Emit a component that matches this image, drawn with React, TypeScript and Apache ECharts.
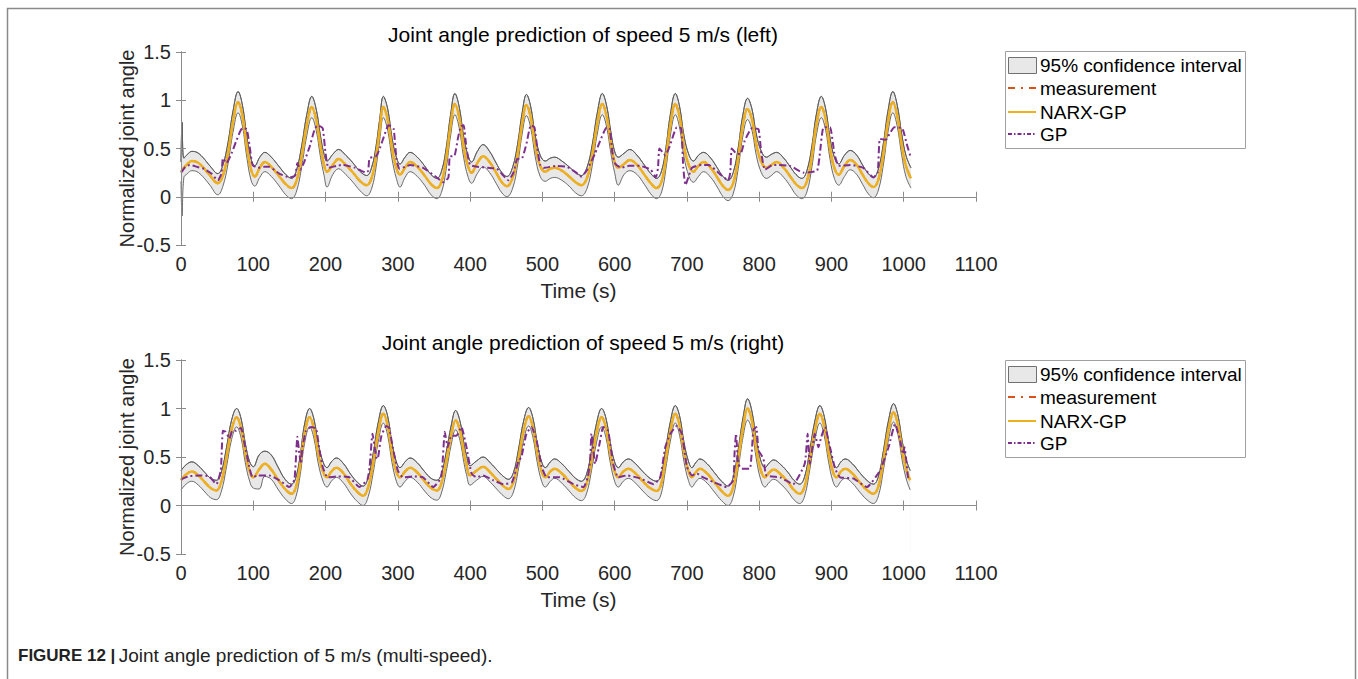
import React, { useEffect, useRef } from "react";
import * as echarts from "echarts";

// ---------- DATA ----------
const xTickMax = 1100;
const xTickStep = 100;
const yMin = -0.5;
const yMax = 1.5;
const yStep = 0.5;

const titleLeft = "Joint angle prediction of speed 5 m/s (left)";
const titleRight = "Joint angle prediction of speed 5 m/s (right)";
const legendNames = ["95% confidence interval", "measurement", "NARX-GP", "GP"];
const captionBold = "FIGURE 12 |";
const caption = "Joint angle prediction of 5 m/s (multi-speed).";

// ---- left (top panel): NARX-GP mean and 95% CI ----
const tLeft = [
  0, 1.5, 4, 9, 15, 22, 30, 40, 51,
  58, 65, 72, 79, 85, 91, 97, 102, 109, 116, 125, 135, 145, 153,
  160, 167, 174, 181, 187, 193, 198, 202, 210, 218, 228, 238, 248, 257,
  264, 270, 275, 280, 286, 292, 298, 303, 310, 317, 327, 337, 346, 354,
  361, 367, 373, 379, 385, 391, 397, 402, 410, 418, 427, 436, 444, 451,
  459, 466, 472, 478, 484, 490, 497, 504, 511, 517, 527, 537, 546, 554,
  562, 569, 576, 583, 589, 595, 600, 605, 613, 621, 631, 641, 650, 658,
  665, 671, 677, 684, 690, 696, 703, 709, 716, 723, 733, 742, 750, 757,
  764, 771, 777, 784, 790, 796, 803, 810, 817, 824, 834, 843, 851, 859,
  866, 873, 879, 886, 892, 898, 904, 910, 918, 926, 935, 943, 951, 958,
  965, 972, 978, 985, 991, 997, 1003, 1010,
];
const narxLeft = [
  0.26, 0.27, 0.30, 0.34, 0.37, 0.36, 0.31, 0.22, 0.14,
  0.22, 0.45, 0.78, 0.98, 0.84, 0.52, 0.28, 0.21, 0.30, 0.36, 0.31, 0.22, 0.13, 0.09,
  0.17, 0.42, 0.74, 0.93, 0.80, 0.52, 0.33, 0.26, 0.33, 0.39, 0.33, 0.25, 0.16, 0.12,
  0.20, 0.42, 0.70, 0.93, 0.80, 0.50, 0.30, 0.23, 0.30, 0.36, 0.31, 0.22, 0.13, 0.09,
  0.17, 0.40, 0.74, 0.96, 0.82, 0.52, 0.32, 0.25, 0.35, 0.42, 0.36, 0.25, 0.15, 0.11,
  0.20, 0.45, 0.76, 0.95, 0.82, 0.53, 0.32, 0.26, 0.29, 0.30, 0.27, 0.21, 0.15, 0.12,
  0.20, 0.43, 0.76, 0.96, 0.83, 0.55, 0.36, 0.30, 0.34, 0.38, 0.33, 0.23, 0.14, 0.09,
  0.16, 0.40, 0.74, 0.96, 0.82, 0.52, 0.32, 0.26, 0.32, 0.36, 0.30, 0.20, 0.11, 0.07,
  0.14, 0.40, 0.72, 0.91, 0.80, 0.54, 0.36, 0.30, 0.33, 0.36, 0.30, 0.21, 0.13, 0.09,
  0.16, 0.42, 0.74, 0.93, 0.80, 0.50, 0.30, 0.23, 0.32, 0.38, 0.33, 0.23, 0.14, 0.10,
  0.18, 0.45, 0.77, 0.98, 0.84, 0.55, 0.32, 0.19,
];
const measLeft = narxLeft; // measurement lies under the NARX-GP mean in the picture
const ciUpLeft = [
  0.36, 0.77, 0.40, 0.44, 0.47, 0.46, 0.41, 0.32, 0.24,
  0.33, 0.56, 0.89, 1.09, 0.95, 0.63, 0.39, 0.32, 0.41, 0.46, 0.41, 0.32, 0.23, 0.19,
  0.28, 0.53, 0.85, 1.04, 0.91, 0.63, 0.44, 0.37, 0.44, 0.49, 0.43, 0.35, 0.26, 0.22,
  0.31, 0.53, 0.81, 1.04, 0.91, 0.61, 0.41, 0.34, 0.41, 0.46, 0.41, 0.32, 0.23, 0.19,
  0.28, 0.51, 0.85, 1.07, 0.93, 0.63, 0.43, 0.36, 0.47, 0.54, 0.47, 0.35, 0.25, 0.21,
  0.31, 0.56, 0.87, 1.06, 0.93, 0.64, 0.43, 0.37, 0.40, 0.41, 0.37, 0.31, 0.25, 0.22,
  0.31, 0.54, 0.87, 1.07, 0.94, 0.66, 0.47, 0.41, 0.45, 0.49, 0.43, 0.33, 0.24, 0.19,
  0.27, 0.51, 0.85, 1.07, 0.93, 0.63, 0.43, 0.37, 0.43, 0.46, 0.40, 0.30, 0.21, 0.17,
  0.25, 0.51, 0.83, 1.02, 0.91, 0.65, 0.47, 0.41, 0.44, 0.46, 0.40, 0.31, 0.23, 0.19,
  0.27, 0.53, 0.85, 1.04, 0.91, 0.61, 0.41, 0.34, 0.43, 0.48, 0.43, 0.33, 0.24, 0.20,
  0.29, 0.56, 0.88, 1.09, 0.95, 0.66, 0.43, 0.30,
];
const ciLoLeft = [
  0.16, -0.20, 0.20, 0.24, 0.27, 0.26, 0.21, 0.12, 0.02,
  0.11, 0.34, 0.67, 0.87, 0.73, 0.41, 0.17, 0.11, 0.20, 0.26, 0.21, 0.12, 0.02, -0.02,
  0.06, 0.31, 0.63, 0.82, 0.69, 0.41, 0.22, 0.10, 0.23, 0.29, 0.23, 0.15, 0.06, 0.01,
  0.09, 0.31, 0.59, 0.82, 0.69, 0.39, 0.19, 0.10, 0.20, 0.26, 0.21, 0.12, 0.02, -0.02,
  0.06, 0.29, 0.63, 0.85, 0.71, 0.41, 0.21, 0.14, 0.24, 0.31, 0.25, 0.14, 0.04, 0.00,
  0.09, 0.34, 0.65, 0.84, 0.71, 0.42, 0.21, 0.16, 0.19, 0.20, 0.17, 0.11, 0.04, 0.01,
  0.09, 0.32, 0.65, 0.85, 0.72, 0.44, 0.25, 0.12, 0.23, 0.27, 0.23, 0.13, 0.03, -0.02,
  0.05, 0.29, 0.63, 0.85, 0.71, 0.41, 0.21, 0.15, 0.21, 0.26, 0.20, 0.10, 0.00, -0.04,
  0.03, 0.29, 0.61, 0.80, 0.69, 0.43, 0.25, 0.19, 0.22, 0.26, 0.20, 0.11, 0.02, -0.02,
  0.05, 0.31, 0.63, 0.82, 0.69, 0.39, 0.19, 0.12, 0.21, 0.28, 0.23, 0.13, 0.03, -0.01,
  0.07, 0.34, 0.66, 0.87, 0.73, 0.44, 0.21, 0.09,
];

// ---- left (top panel): GP ----
const tGpLeft = [
  0, 6, 12, 22, 32, 42, 51, 56, 58, 63,
  70, 76, 82, 85, 91, 95, 99, 106, 115, 122,
  136, 150, 158, 161, 165, 170, 178, 185, 189, 196,
  200, 204, 215, 223, 241, 256, 259, 261, 270, 275,
  282, 287, 294, 298, 302, 310, 317, 335, 354, 363,
  370, 372, 378, 383, 387, 391, 395, 400, 410, 425,
  437, 446, 453, 460, 465, 472, 478, 484, 489, 493,
  497, 502, 520, 534, 545, 554, 562, 573, 580, 589,
  593, 597, 600, 609, 620, 635, 650, 657, 660, 662,
  670, 676, 686, 692, 695, 698, 702, 707, 720, 730,
  748, 757, 760, 762, 768, 774, 780, 790, 799, 803,
  808, 819, 843, 861, 880, 884, 889, 898, 904, 910,
  926, 944, 958, 964, 967, 975, 981, 987, 998, 1004,
  1010,
];
const gpLeft = [
  0.25, 0.31, 0.33, 0.31, 0.29, 0.24, 0.17, 0.24, 0.40, 0.35,
  0.45, 0.57, 0.68, 0.71, 0.70, 0.52, 0.33, 0.30, 0.31, 0.31,
  0.24, 0.20, 0.22, 0.35, 0.28, 0.35, 0.52, 0.70, 0.74, 0.71,
  0.45, 0.30, 0.32, 0.33, 0.30, 0.25, 0.27, 0.40, 0.42, 0.50,
  0.65, 0.74, 0.71, 0.40, 0.29, 0.31, 0.33, 0.30, 0.20, 0.15,
  0.20, 0.42, 0.42, 0.60, 0.73, 0.74, 0.50, 0.33, 0.31, 0.30,
  0.29, 0.22, 0.17, 0.25, 0.39, 0.40, 0.55, 0.74, 0.72, 0.50,
  0.33, 0.30, 0.32, 0.31, 0.26, 0.21, 0.28, 0.45, 0.58, 0.72,
  0.71, 0.45, 0.35, 0.30, 0.32, 0.32, 0.28, 0.20, 0.30, 0.50,
  0.43, 0.52, 0.72, 0.71, 0.30, 0.12, 0.20, 0.30, 0.33, 0.33,
  0.22, 0.17, 0.25, 0.50, 0.45, 0.44, 0.58, 0.71, 0.70, 0.45,
  0.28, 0.33, 0.32, 0.25, 0.27, 0.45, 0.72, 0.72, 0.45, 0.32,
  0.33, 0.30, 0.20, 0.25, 0.60, 0.59, 0.66, 0.72, 0.71, 0.55,
  0.40,
];

// ---- right (bottom panel): NARX-GP mean and 95% CI ----
const tRight = [
  0, 7, 15, 24, 33, 41, 49,
  56, 63, 70, 77, 83, 89, 95, 100, 108, 116, 125, 134, 144, 153,
  159, 165, 171, 178, 184, 190, 197, 202, 208, 215, 225, 235, 244, 252,
  259, 266, 273, 280, 286, 292, 298, 303, 310, 317, 327, 337, 346, 354,
  360, 367, 374, 380, 386, 392, 395, 400, 409, 418, 428, 438, 446, 453,
  460, 467, 474, 481, 487, 493, 499, 504, 511, 517, 527, 537, 546, 554,
  561, 568, 575, 582, 588, 594, 600, 605, 612, 619, 629, 639, 649, 658,
  664, 670, 677, 684, 690, 696, 702, 707, 712, 718, 728, 738, 748, 757,
  764, 771, 778, 784, 790, 796, 802, 808, 814, 820, 830, 840, 848, 856,
  863, 870, 877, 884, 890, 896, 902, 907, 913, 919, 929, 939, 949, 958,
  965, 972, 979, 986, 992, 998, 1004, 1009,
];
const narxRight = [
  0.26, 0.32, 0.35, 0.31, 0.24, 0.18, 0.155,
  0.25, 0.50, 0.78, 0.91, 0.80, 0.54, 0.35, 0.29, 0.37, 0.43, 0.37, 0.27, 0.17, 0.12,
  0.19, 0.42, 0.74, 0.91, 0.79, 0.53, 0.34, 0.29, 0.35, 0.39, 0.33, 0.22, 0.14, 0.10,
  0.19, 0.44, 0.76, 0.945, 0.82, 0.54, 0.35, 0.29, 0.35, 0.39, 0.34, 0.25, 0.18, 0.155,
  0.22, 0.45, 0.73, 0.88, 0.77, 0.52, 0.42, 0.31, 0.36, 0.40, 0.34, 0.26, 0.20, 0.17,
  0.24, 0.48, 0.77, 0.92, 0.80, 0.54, 0.35, 0.29, 0.35, 0.38, 0.33, 0.25, 0.18, 0.15,
  0.22, 0.46, 0.75, 0.91, 0.80, 0.54, 0.35, 0.29, 0.35, 0.38, 0.33, 0.25, 0.18, 0.15,
  0.21, 0.45, 0.76, 0.945, 0.82, 0.55, 0.36, 0.29, 0.34, 0.38, 0.33, 0.24, 0.15, 0.10,
  0.19, 0.48, 0.82, 1.00, 0.87, 0.58, 0.37, 0.29, 0.34, 0.37, 0.32, 0.24, 0.16, 0.12,
  0.20, 0.47, 0.77, 0.945, 0.82, 0.55, 0.35, 0.29, 0.35, 0.38, 0.33, 0.24, 0.16, 0.12,
  0.20, 0.47, 0.78, 0.96, 0.83, 0.56, 0.36, 0.26,
];
const measRight = narxRight; // measurement lies under the NARX-GP mean in the picture
const ciUpRight = [
  0.36, 0.42, 0.45, 0.41, 0.34, 0.28, 0.26,
  0.35, 0.60, 0.88, 1.00, 0.90, 0.64, 0.45, 0.40, 0.52, 0.56, 0.52, 0.40, 0.27, 0.22,
  0.29, 0.52, 0.84, 1.00, 0.89, 0.63, 0.44, 0.39, 0.45, 0.49, 0.43, 0.32, 0.24, 0.20,
  0.29, 0.54, 0.86, 1.03, 0.92, 0.64, 0.45, 0.39, 0.45, 0.49, 0.44, 0.35, 0.28, 0.26,
  0.32, 0.55, 0.83, 0.98, 0.87, 0.62, 0.52, 0.41, 0.46, 0.50, 0.44, 0.36, 0.30, 0.27,
  0.34, 0.58, 0.87, 1.01, 0.90, 0.64, 0.45, 0.39, 0.45, 0.48, 0.43, 0.35, 0.28, 0.25,
  0.32, 0.56, 0.85, 1.00, 0.90, 0.64, 0.45, 0.39, 0.45, 0.48, 0.43, 0.35, 0.28, 0.25,
  0.31, 0.55, 0.86, 1.03, 0.92, 0.65, 0.46, 0.39, 0.44, 0.48, 0.43, 0.34, 0.25, 0.20,
  0.29, 0.58, 0.92, 1.10, 0.97, 0.68, 0.47, 0.39, 0.44, 0.47, 0.42, 0.34, 0.26, 0.22,
  0.30, 0.57, 0.87, 1.03, 0.92, 0.65, 0.45, 0.39, 0.45, 0.48, 0.43, 0.34, 0.26, 0.22,
  0.30, 0.57, 0.88, 1.05, 0.93, 0.66, 0.46, 0.36,
];
const ciLoRight = [
  0.16, 0.22, 0.25, 0.21, 0.14, 0.08, 0.06,
  0.15, 0.40, 0.68, 0.81, 0.70, 0.44, 0.25, 0.18, 0.17, 0.30, 0.27, 0.17, 0.07, 0.02,
  0.09, 0.32, 0.64, 0.81, 0.69, 0.43, 0.24, 0.19, 0.25, 0.29, 0.23, 0.12, 0.04, 0.00,
  0.09, 0.34, 0.66, 0.85, 0.72, 0.44, 0.25, 0.19, 0.25, 0.29, 0.24, 0.15, 0.08, 0.055,
  0.12, 0.35, 0.63, 0.78, 0.67, 0.42, 0.32, 0.21, 0.26, 0.30, 0.24, 0.16, 0.10, 0.07,
  0.14, 0.38, 0.67, 0.82, 0.70, 0.44, 0.25, 0.19, 0.25, 0.28, 0.23, 0.15, 0.08, 0.05,
  0.12, 0.36, 0.65, 0.81, 0.70, 0.44, 0.25, 0.19, 0.25, 0.28, 0.23, 0.15, 0.08, 0.05,
  0.11, 0.35, 0.66, 0.85, 0.72, 0.45, 0.26, 0.19, 0.24, 0.28, 0.23, 0.14, 0.05, 0.00,
  0.09, 0.38, 0.72, 0.88, 0.77, 0.48, 0.27, 0.19, 0.24, 0.27, 0.22, 0.14, 0.06, 0.02,
  0.10, 0.37, 0.67, 0.85, 0.72, 0.45, 0.25, 0.19, 0.25, 0.28, 0.23, 0.14, 0.06, 0.02,
  0.10, 0.37, 0.68, 0.86, 0.73, 0.46, 0.26, 0.16,
];

// ---- right (bottom panel): GP ----
const tGpRight = [
  0, 10, 25, 39, 49, 55, 58, 62, 67, 71,
  76, 83, 88, 95, 99, 106, 113, 122, 136, 150,
  157, 161, 164, 166, 168, 173, 180, 187, 191, 196,
  203, 218, 233, 247, 258, 261, 265, 270, 272, 277,
  284, 288, 293, 300, 307, 320, 335, 349, 360, 365,
  369, 374, 381, 388, 395, 402, 409, 418, 432, 446,
  458, 467, 471, 478, 485, 492, 499, 506, 524, 543,
  557, 563, 566, 568, 573, 580, 584, 591, 598, 605,
  617, 635, 654, 663, 670, 677, 686, 693, 700, 707,
  714, 720, 737, 755, 764, 766, 768, 771, 776, 787,
  792, 796, 799, 803, 806, 810, 829, 847, 863, 867,
  870, 877, 882, 886, 891, 898, 905, 912, 930, 949,
  967, 979, 988, 995, 999, 1001, 1004, 1006, 1009,
];
const gpRight = [
  0.27, 0.30, 0.31, 0.30, 0.22, 0.36, 0.77, 0.76, 0.69, 0.77,
  0.77, 0.80, 0.63, 0.38, 0.29, 0.31, 0.31, 0.31, 0.26, 0.19,
  0.27, 0.71, 0.52, 0.43, 0.60, 0.77, 0.81, 0.79, 0.60, 0.40,
  0.29, 0.30, 0.29, 0.19, 0.27, 0.40, 0.74, 0.50, 0.48, 0.71,
  0.82, 0.80, 0.60, 0.36, 0.29, 0.30, 0.29, 0.19, 0.29, 0.76,
  0.60, 0.72, 0.72, 0.81, 0.60, 0.33, 0.29, 0.31, 0.26, 0.22,
  0.24, 0.46, 0.50, 0.74, 0.81, 0.67, 0.40, 0.29, 0.29, 0.22,
  0.19, 0.30, 0.46, 0.74, 0.43, 0.67, 0.81, 0.77, 0.43, 0.29,
  0.31, 0.28, 0.22, 0.29, 0.60, 0.74, 0.82, 0.74, 0.40, 0.31,
  0.33, 0.30, 0.24, 0.19, 0.26, 0.55, 0.74, 0.43, 0.38, 0.38,
  0.78, 0.81, 0.57, 0.52, 0.48, 0.31, 0.29, 0.22, 0.43, 0.74,
  0.43, 0.74, 0.60, 0.71, 0.81, 0.60, 0.38, 0.29, 0.28, 0.19,
  0.36, 0.60, 0.84, 0.67, 0.53, 0.60, 0.43, 0.29, 0.26,
];

// ---------- STYLE ----------
const FONT = "'Liberation Sans', Arial, Helvetica, sans-serif";
const AXIS = "#8a8a8a";
const LABEL = "#262626";
const ORANGE = "#EDB120";
const RED = "#D95319";
const PURPLE = "#7E2F8E";
const CI_FILL = "#e8e8e8";
const CI_EDGE = "#5a5a5a";
const DASHDOT = [7, 3, 2, 3];

const pairs = (t: number[], v: number[]) => t.map((x, i) => [x, v[i]]);
const numLabel = (v: number) => String(v);

function panelAxes(gridIndex: number) {
  const common = {
    gridIndex,
    type: "value" as const,
    z: 10,
    splitLine: { show: false },
    axisLine: { show: true, lineStyle: { color: AXIS, width: 1 } },
    axisTick: { show: true, inside: true, length: 5, lineStyle: { color: AXIS, width: 1 } },
  };
  const xAxes = [
    {
      ...common,
      position: "bottom",
      min: 0,
      max: xTickMax,
      interval: xTickStep,
      axisLabel: { color: LABEL, fontSize: 20, fontFamily: FONT, margin: 9, formatter: numLabel },
      name: "Time (s)",
      nameLocation: "middle",
      nameGap: 35,
      nameMoveOverlap: false,
      nameTextStyle: { color: LABEL, fontSize: 21, fontFamily: FONT },
    },
    {
      ...common,
      position: "top",
      min: 0,
      max: xTickMax,
      interval: xTickStep,
      axisLabel: { show: false },
    },
  ];
  const yAxes = [
    {
      ...common,
      position: "left",
      min: yMin,
      max: yMax,
      interval: yStep,
      axisLabel: { color: LABEL, fontSize: 20, fontFamily: FONT, margin: 10, formatter: numLabel },
      name: "Normalized joint angle",
      nameLocation: "middle",
      nameGap: 44,
      nameMoveOverlap: false,
      nameTextStyle: { color: LABEL, fontSize: 20, fontFamily: FONT },
    },
    {
      ...common,
      position: "right",
      min: yMin,
      max: yMax,
      interval: yStep,
      axisLabel: { show: false },
    },
  ];
  return { xAxes, yAxes };
}

function panelSeries(
  axisIndex: number,
  key: string,
  t: number[],
  up: number[],
  lo: number[],
  meas: number[],
  narx: number[],
  tGp: number[],
  gp: number[]
) {
  const base = {
    type: "line",
    xAxisIndex: axisIndex,
    yAxisIndex: axisIndex,
    symbol: "none",
    silent: true,
  };
  return [
    {
      // band: grey fill under the upper bound
      ...base,
      name: legendNames[0] + " " + key,
      data: pairs(t, up),
      smooth: 0.4,
      lineStyle: { color: CI_EDGE, width: 0.9 },
      areaStyle: { color: CI_FILL, opacity: 1, origin: "start" },
      z: 1,
    },
    {
      // band: white fill under the lower bound (cuts the band out)
      ...base,
      name: "ci lower " + key,
      data: pairs(t, lo),
      smooth: 0.4,
      lineStyle: { color: CI_EDGE, width: 0.9 },
      areaStyle: { color: "#ffffff", opacity: 1, origin: "start" },
      z: 2,
    },
    {
      ...base,
      name: "ci upper edge " + key,
      data: pairs(t, up),
      smooth: 0.4,
      lineStyle: { color: CI_EDGE, width: 0.9 },
      z: 3,
    },
    {
      ...base,
      name: legendNames[1],
      data: pairs(t, meas),
      smooth: 0.4,
      lineStyle: { color: RED, width: 2, type: DASHDOT },
      z: 4,
    },
    {
      ...base,
      name: legendNames[2],
      data: pairs(t, narx),
      smooth: 0.4,
      lineStyle: { color: ORANGE, width: 2.5 },
      z: 5,
    },
    {
      ...base,
      name: legendNames[3],
      data: pairs(tGp, gp),
      smooth: 0.15,
      lineStyle: { color: PURPLE, width: 2, type: DASHDOT },
      z: 6,
    },
  ];
}

// legend drawn with graphic elements (box, icons, texts)
function legendGraphic(top: number) {
  const left = 1005;
  const rows = [top + 14, top + 37, top + 61, top + 83];
  const iconL = left + 3;
  const iconR = left + 31;
  const textX = left + 35;
  const textStyle = { fontSize: 19, fontFamily: FONT, fill: "#000" };
  const els: any[] = [
    {
      type: "rect",
      silent: true,
      shape: { x: left + 0.5, y: top + 0.5, width: 240, height: 97 },
      style: { fill: "#fff", stroke: "#a0a0a0", lineWidth: 1 },
      z: 20,
    },
    {
      type: "rect",
      silent: true,
      shape: { x: iconL + 0.5, y: rows[0] - 8 + 0.5, width: 28, height: 16 },
      style: { fill: CI_FILL, stroke: "#707070", lineWidth: 1 },
      z: 21,
    },
    {
      type: "line",
      silent: true,
      shape: { x1: iconL, y1: rows[1], x2: iconR, y2: rows[1] },
      style: { stroke: RED, lineWidth: 2, lineDash: [7, 6, 2, 6] },
      z: 21,
    },
    {
      type: "line",
      silent: true,
      shape: { x1: iconL, y1: rows[2], x2: iconR, y2: rows[2] },
      style: { stroke: ORANGE, lineWidth: 2 },
      z: 21,
    },
    {
      type: "line",
      silent: true,
      shape: { x1: iconL, y1: rows[3], x2: iconR, y2: rows[3] },
      style: { stroke: PURPLE, lineWidth: 2, lineDash: [4, 2, 1.5, 2] },
      z: 21,
    },
  ];
  legendNames.forEach((n, i) => {
    els.push({
      type: "text",
      silent: true,
      x: textX,
      y: rows[i],
      style: { ...textStyle, text: n, align: "left", verticalAlign: "middle", textAlign: "left", textVerticalAlign: "middle" },
      z: 21,
    });
  });
  return els;
}

export default function App() {
  const ref = useRef<HTMLDivElement | null>(null);
  useEffect(() => {
    if (!ref.current) return;
    const chart = echarts.init(ref.current, undefined, { renderer: "svg" });
    const top = panelAxes(0);
    const bot = panelAxes(1);
    const titleStyle = { color: "#000", fontSize: 21, fontWeight: "normal", fontFamily: FONT };
    const option: any = {
      animation: false,
      backgroundColor: "#ffffff",
      textStyle: { fontFamily: FONT },
      title: [
        { text: titleLeft, left: 578, top: 19, textAlign: "center", textStyle: titleStyle },
        { text: titleRight, left: 578, top: 327, textAlign: "center", textStyle: titleStyle },
      ],
      grid: [
        { left: 181, top: 52, width: 795, height: 193, containLabel: false },
        { left: 181, top: 360, width: 795, height: 194, containLabel: false },
      ],
      xAxis: [...top.xAxes, ...bot.xAxes],
      yAxis: [...top.yAxes, ...bot.yAxes],
      series: [
        ...panelSeries(0, "L", tLeft, ciUpLeft, ciLoLeft, measLeft, narxLeft, tGpLeft, gpLeft),
        ...panelSeries(2, "R", tRight, ciUpRight, ciLoRight, measRight, narxRight, tGpRight, gpRight),
      ],
      graphic: [
        {
          type: "polyline",
          silent: true,
          shape: { points: [[7.5, 679], [7.5, 8.5], [1355.5, 8.5], [1355.5, 679]] },
          style: { stroke: "#8a8a8a", lineWidth: 1.5, fill: "none" },
        },
        ...legendGraphic(51),
        ...legendGraphic(360),
        {
          type: "text",
          silent: true,
          x: 18,
          y: 655,
          style: {
            text: "{b|" + captionBold + "} {n|" + caption + "}",
            verticalAlign: "middle",
            textVerticalAlign: "middle",
            rich: {
              b: { fontSize: 17, fontWeight: "bold", fill: "#222", fontFamily: FONT },
              n: { fontSize: 19, fill: "#222", fontFamily: FONT },
            },
          },
        },
      ],
    };
    chart.setOption(option);
    return () => chart.dispose();
  }, []);
  return (
    <div
      ref={ref}
      style={{ position: "fixed", left: 0, top: 0, width: 1358, height: 679, background: "#fff" }}
    />
  );
}
